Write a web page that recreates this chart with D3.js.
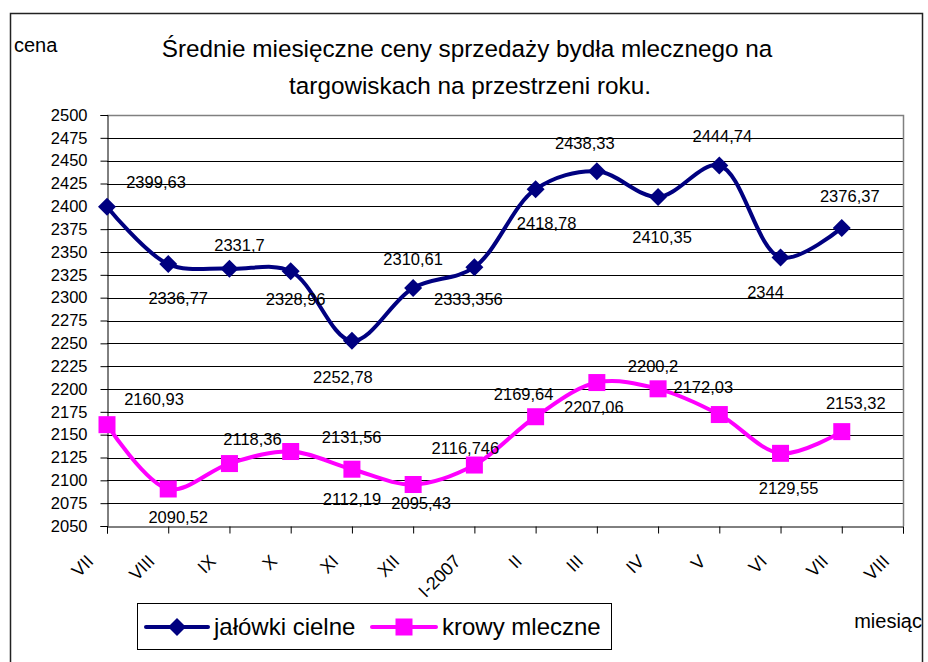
<!DOCTYPE html>
<html>
<head>
<meta charset="utf-8">
<script src="https://cdn.jsdelivr.net/npm/d3@7"></script>
<style>
  body { margin: 0; background: #fff; }
  svg { font-family: "Liberation Sans", Arial, sans-serif; }
</style>
</head>
<body>
<div id="chart"></div>
<script>
// months on the x axis (I-2007 = January 2007)
var months = ["VII", "VIII", "IX", "X", "XI", "XII", "I-2007", "II", "III", "IV", "V", "VI", "VII", "VIII"];
// average prices, one per month (last month has no data)
var jalowki = [2399.63, 2336.77, 2331.7, 2328.96, 2252.78, 2310.61, 2333.356, 2418.78, 2438.33, 2410.35, 2444.74, 2344, 2376.37];
var krowy = [2160.93, 2090.52, 2118.36, 2131.56, 2112.19, 2095.43, 2116.746, 2169.64, 2207.06, 2200.2, 2172.03, 2129.55, 2153.32];
var yTicks = d3.range(2050, 2501, 25);
var seriesNames = ["jałówki cielne", "krowy mleczne"];

// where each data label sits relative to its marker (px)
var jalowkiLabelOffset = [[49,-25],[10,34],[10,-24],[5,28],[-9,36],[0,-29],[-6,32],[11,34],[-12,-28],[4,40],[3,-29],[-15,35],[8,-32]];
var krowyLabelOffset = [[47,-26],[10,28],[23,-25],[61,-15],[0,30],[8,18],[-9,-17],[-12,-23],[-3,24],[-5,-23],[-16,-28],[8,35],[14,-29]];

var W = 928, H = 662;
var plot = {left: 107, right: 903, top: 115, bottom: 526};

var svg = d3.select("#chart").append("svg")
  .attr("width", W)
  .attr("height", H);

svg.append("rect")
  .attr("width", W)
  .attr("height", H)
  .attr("fill", "#fff");

// outer chart frame
svg.append("rect")
  .attr("x", 10.5)
  .attr("y", 13.5)
  .attr("width", 912)
  .attr("height", 700)
  .attr("fill", "none")
  .attr("stroke", "#222")
  .attr("stroke-width", 1.5);

var x = d3.scalePoint()
  .domain(d3.range(months.length))
  .range([plot.left, plot.right]);
var y = d3.scaleLinear()
  .domain([2050, 2500])
  .range([plot.bottom, plot.top]);

// gridlines
svg.append("g")
  .selectAll("line")
  .data(yTicks.slice(1))
  .enter()
  .append("line")
  .attr("x1", plot.left)
  .attr("x2", plot.right)
  .attr("y1", function(d) { return Math.round(y(d)) + 0.5; })
  .attr("y2", function(d) { return Math.round(y(d)) + 0.5; })
  .attr("stroke", d3.rgb(0, 0, 0))
  .attr("stroke-width", 1);

// plot area border (top + right grey)
svg.append("path")
  .attr("d", "M" + plot.left + "," + (plot.top + 0.5) + "H" + (plot.right + 0.5) + "V" + plot.bottom)
  .attr("fill", "none")
  .attr("stroke", "#808080")
  .attr("stroke-width", 1.5);

var yAxis = svg.append("g")
  .attr("transform", "translate(" + (plot.left + 0.5) + ",0)")
  .call(d3.axisLeft(y).tickValues(yTicks).tickSize(7).tickPadding(13).tickFormat(d3.format("d")));
yAxis.selectAll("text")
  .attr("font-size", 16.5)
  .attr("fill", "#000");
yAxis.select(".domain").attr("stroke", "#000");
yAxis.selectAll(".tick line").attr("stroke", "#000");

var xAxis = svg.append("g")
  .attr("transform", "translate(0," + (plot.bottom + 0.5) + ")")
  .call(d3.axisBottom(x).tickSize(7).tickFormat(function(i) { return months[i]; }));
xAxis.select(".domain").attr("stroke", "#000");
xAxis.selectAll(".tick line").attr("stroke", "#000");
xAxis.selectAll("text")
  .attr("font-size", 18)
  .attr("fill", "#000")
  .attr("text-anchor", "end")
  .attr("dy", 0)
  .attr("y", 0)
  .attr("transform", "translate(-13,36) rotate(-45)");

// axis titles
svg.append("text")
  .attr("x", 14)
  .attr("y", 52)
  .attr("font-size", 20)
  .text("cena");
svg.append("text")
  .attr("x", 922)
  .attr("y", 628)
  .attr("text-anchor", "end")
  .attr("font-size", 20)
  .text("miesiąc");

// title
var title = svg.append("text")
  .attr("text-anchor", "middle")
  .attr("font-size", 24.3);
title.append("tspan").attr("x", 467).attr("y", 57).text("Średnie miesięczne ceny sprzedaży bydła mlecznego na");
title.append("tspan").attr("x", 470).attr("y", 94).text("targowiskach na przestrzeni roku.");

var line = d3.line()
  .x(function(d, i) { return x(i); })
  .y(function(d) { return y(d); })
  .curve(d3.curveCatmullRom.alpha(0.5));

var series = [
  {name: seriesNames[0], values: jalowki, color: "#000080", marker: "diamond", offsets: jalowkiLabelOffset},
  {name: seriesNames[1], values: krowy, color: "#ff00ff", marker: "square", offsets: krowyLabelOffset}
];

function drawMarker(sel, type, color) {
  if (type == "diamond") {
    sel.append("path")
      .attr("d", "M0,-9L9,0L0,9L-9,0Z")
      .attr("fill", color);
  }
  else {
    sel.append("rect")
      .attr("x", -8.5)
      .attr("y", -8.5)
      .attr("width", 17)
      .attr("height", 17)
      .attr("fill", color);
  }
}

series.forEach(function(s) {
  svg.append("path")
    .datum(s.values)
    .attr("fill", "none")
    .attr("stroke", s.color)
    .attr("stroke-width", 4)
    .attr("stroke-linejoin", "round")
    .attr("d", line);

  svg.append("g")
    .selectAll("g")
    .data(s.values)
    .enter()
    .append("g")
    .attr("transform", function(d, i) { return "translate(" + x(i) + "," + y(d) + ")"; })
    .each(function() { drawMarker(d3.select(this), s.marker, s.color); });
});

// data labels on top
series.forEach(function(s) {
  svg.append("g")
    .selectAll("text")
    .data(s.values)
    .enter()
    .append("text")
    .attr("x", function(d, i) { return x(i) + s.offsets[i][0]; })
    .attr("y", function(d, i) { return y(d) + s.offsets[i][1]; })
    .attr("text-anchor", "middle")
    .attr("dominant-baseline", "central")
    .attr("font-size", 16.5)
    .text(function(d) { return String(d).replace(".", ","); });
});

// legend
var legend = svg.append("g");
legend.append("rect")
  .attr("x", 137.5)
  .attr("y", 603.5)
  .attr("width", 474)
  .attr("height", 46)
  .attr("fill", "#fff")
  .attr("stroke", "#000");

var legendItems = [
  {x0: 146, x1: 208, tx: 214},
  {x0: 372, x1: 436, tx: 442}
];
legendItems.forEach(function(it, k) {
  var s = series[k];
  legend.append("line")
    .attr("x1", it.x0)
    .attr("x2", it.x1)
    .attr("y1", 627)
    .attr("y2", 627)
    .attr("stroke", s.color)
    .attr("stroke-width", 4)
    .attr("stroke-linecap", "round");
  var m = legend.append("g")
    .attr("transform", "translate(" + ((it.x0 + it.x1) / 2) + ",627)");
  drawMarker(m, s.marker, s.color);
  legend.append("text")
    .attr("x", it.tx)
    .attr("y", 635)
    .attr("font-size", 24)
    .text(s.name);
});
</script>
</body>
</html>
